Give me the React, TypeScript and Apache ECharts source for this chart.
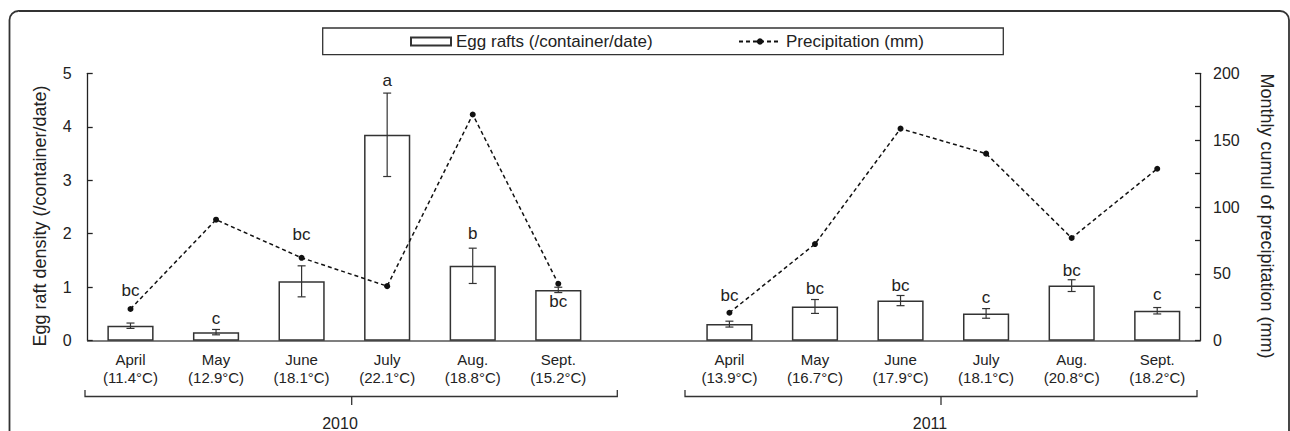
import React, { useEffect, useRef } from "react";
import * as echarts from "echarts";

const months = ["April", "May", "June", "July", "Aug.", "Sept."];
const temps2010 = ["11.4°C", "12.9°C", "18.1°C", "22.1°C", "18.8°C", "15.2°C"];
const temps2011 = ["13.9°C", "16.7°C", "17.9°C", "18.1°C", "20.8°C", "18.2°C"];
const eggs2010 = [0.28, 0.16, 1.11, 3.85, 1.4, 0.95];
const eggsErr2010 = [0.05, 0.05, 0.29, 0.78, 0.33, 0.05];
const eggs2011 = [0.31, 0.64, 0.75, 0.51, 1.03, 0.56];
const eggsErr2011 = [0.055, 0.13, 0.095, 0.09, 0.11, 0.06];
const precip2010 = [23.7, 90.5, 62, 40.8, 169.2, 42.6];
const precip2011 = [20.9, 72.3, 158.6, 139.9, 76.8, 128.6];
const letters2010 = ["bc", "c", "bc", "a", "b", "bc"];
const letters2011 = ["bc", "bc", "bc", "c", "bc", "c"];
const letterY2010 = [0.93, 0.42, 1.99, 4.86, 2.01, 0.73];
const letterY2011 = [0.84, 0.97, 1.03, 0.8, 1.31, 0.87];
const years = ["2010", "2011"];
const leftTicks = { min: 0, max: 5, interval: 1 };
const rightTicks = { min: 0, max: 200, interval: 25, labelEvery: 50 };

const FONT = "'Liberation Sans', Arial, Helvetica, sans-serif";
const INK = "#222";

export default function App() {
  const ref = useRef<HTMLDivElement>(null);

  useEffect(() => {
    if (!ref.current) return;
    const chart = echarts.init(ref.current, undefined, { renderer: "svg" });

    const categories = [
      ...months.map((m, i) => `${m}\n(${temps2010[i]})`),
      "",
      ...months.map((m, i) => `${m}\n(${temps2011[i]})`),
    ];
    const eggs = [...eggs2010, null, ...eggs2011];
    const errs = [...eggsErr2010, null, ...eggsErr2011];
    const precip = [...precip2010, null, ...precip2011];
    const letters = [...letters2010, "", ...letters2011];
    const letterY = [...letterY2010, null, ...letterY2011];

    const errData: any[] = [];
    eggs.forEach((v, i) => {
      if (v != null && errs[i] != null) errData.push([i, v - (errs[i] as number), v + (errs[i] as number)]);
    });
    const letterData: any[] = [];
    letterY.forEach((y, i) => {
      if (y != null) letterData.push({ value: [i, y], name: letters[i] });
    });

    const bracket = (x1: number, x2: number, xm: number, label: string, xt: number) => [
      {
        type: "polyline",
        shape: { points: [[x1, 390], [x1, 396.5], [x2, 396.5], [x2, 390]] },
        style: { stroke: "#333", lineWidth: 1.3, fill: null },
      },
      {
        type: "line",
        shape: { x1: xm, y1: 396.5, x2: xm, y2: 405 },
        style: { stroke: "#333", lineWidth: 1.3 },
      },
      {
        type: "text",
        x: xt,
        y: 423,
        style: { text: label, fontSize: 16, fontFamily: FONT, fill: INK, align: "center", verticalAlign: "middle" },
      },
    ];

    chart.setOption({
      animation: false,
      backgroundColor: "#fff",
      grid: { left: 87.7, right: 90, top: 73.3, bottom: 90.3, containLabel: false },
      legend: [
        {
          data: [{ name: "Egg rafts (/container/date)", icon: "rect" }],
          left: 410,
          top: 33,
          padding: 0,
          itemWidth: 40,
          itemHeight: 8,
          selectedMode: false,
          textStyle: { fontSize: 17, fontFamily: FONT, color: INK },
        },
        {
          data: ["Precipitation (mm)"],
          left: 738,
          top: 33,
          padding: 0,
          itemWidth: 42,
          itemHeight: 8,
          selectedMode: false,
          textStyle: { fontSize: 17, fontFamily: FONT, color: INK },
        },
      ],
      xAxis: {
        type: "category",
        data: categories,
        boundaryGap: true,
        axisLine: { lineStyle: { color: "#555", width: 1.5 } },
        axisTick: { show: false },
        axisLabel: {
          interval: 0,
          fontSize: 15,
          lineHeight: 18,
          margin: 10,
          color: INK,
          fontFamily: FONT,
        },
      },
      yAxis: [
        {
          type: "value",
          min: leftTicks.min,
          max: leftTicks.max,
          interval: leftTicks.interval,
          splitLine: { show: false },
          axisLine: { show: true, lineStyle: { color: "#222", width: 1.3 } },
          axisTick: { show: true, inside: true, length: 5, lineStyle: { color: "#222", width: 1.3 } },
          axisLabel: { fontSize: 16, color: INK, fontFamily: FONT, margin: 16 },
        },
        {
          type: "value",
          position: "right",
          min: rightTicks.min,
          max: rightTicks.max,
          interval: rightTicks.interval,
          splitLine: { show: false },
          axisLine: { show: true, lineStyle: { color: "#222", width: 1.3 } },
          axisTick: { show: true, inside: true, length: 5, lineStyle: { color: "#222", width: 1.3 } },
          axisLabel: {
            fontSize: 16,
            color: INK,
            fontFamily: FONT,
            margin: 13,
            formatter: (v: number) => (v % rightTicks.labelEvery === 0 ? String(v) : ""),
          },
        },
      ],
      series: [
        {
          name: "Egg rafts (/container/date)",
          type: "bar",
          data: eggs,
          barWidth: "54%",
          yAxisIndex: 0,
          itemStyle: { color: "#fff", borderColor: "#333", borderWidth: 1.5 },
          z: 2,
        },
        {
          name: "errors",
          type: "custom",
          yAxisIndex: 0,
          data: errData,
          z: 3,
          renderItem: (params: any, api: any) => {
            const lo = api.coord([api.value(0), api.value(1)]);
            const hi = api.coord([api.value(0), api.value(2)]);
            const x = lo[0];
            const cap = 4;
            const st = { stroke: "#333", lineWidth: 1.2 };
            return {
              type: "group",
              children: [
                { type: "line", shape: { x1: x, y1: lo[1], x2: x, y2: hi[1] }, style: st },
                { type: "line", shape: { x1: x - cap, y1: lo[1], x2: x + cap, y2: lo[1] }, style: st },
                { type: "line", shape: { x1: x - cap, y1: hi[1], x2: x + cap, y2: hi[1] }, style: st },
              ],
            };
          },
        },
        {
          name: "Precipitation (mm)",
          type: "line",
          yAxisIndex: 1,
          data: precip,
          connectNulls: false,
          symbol: "circle",
          symbolSize: 6,
          itemStyle: { color: "#111" },
          lineStyle: { color: "#111", width: 1.5, type: [4, 3] },
          z: 4,
        },
        {
          name: "letters",
          type: "custom",
          yAxisIndex: 0,
          data: letterData,
          z: 5,
          renderItem: (params: any, api: any) => {
            const p = api.coord([api.value(0), api.value(1)]);
            return {
              type: "text",
              x: p[0],
              y: p[1],
              style: {
                text: letterData[params.dataIndex].name,
                fontSize: 17,
                fontFamily: FONT,
                fill: INK,
                align: "center",
                verticalAlign: "middle",
              },
            };
          },
        },
      ],
      graphic: [
        {
          type: "rect",
          shape: { x: 9.5, y: 11, width: 1279.5, height: 480, r: 9 },
          style: { stroke: "#333", lineWidth: 1.8, fill: null },
          silent: true,
        },
        {
          type: "rect",
          shape: { x: 322.7, y: 28, width: 680.6, height: 26.7 },
          style: { stroke: "#333", lineWidth: 1.3, fill: null },
          silent: true,
        },
        {
          type: "text",
          x: 40,
          y: 216,
          rotation: Math.PI / 2,
          style: {
            text: "Egg raft density (/container/date)",
            fontSize: 18,
            fontFamily: FONT,
            fill: INK,
            align: "center",
            verticalAlign: "middle",
          },
        },
        {
          type: "text",
          x: 1267,
          y: 216,
          rotation: -Math.PI / 2,
          style: {
            text: "Monthly cumul of precipitation (mm)",
            fontSize: 18,
            fontFamily: FONT,
            fill: INK,
            align: "center",
            verticalAlign: "middle",
          },
        },
        ...bracket(85, 617.3, 351.7, years[0], 340),
        ...bracket(685, 1197, 941, years[1], 930),
      ],
    });

    return () => chart.dispose();
  }, []);

  return (
    <div
      ref={ref}
      style={{ position: "fixed", left: 0, top: 0, width: 1290, height: 431, background: "#fff" }}
    />
  );
}
